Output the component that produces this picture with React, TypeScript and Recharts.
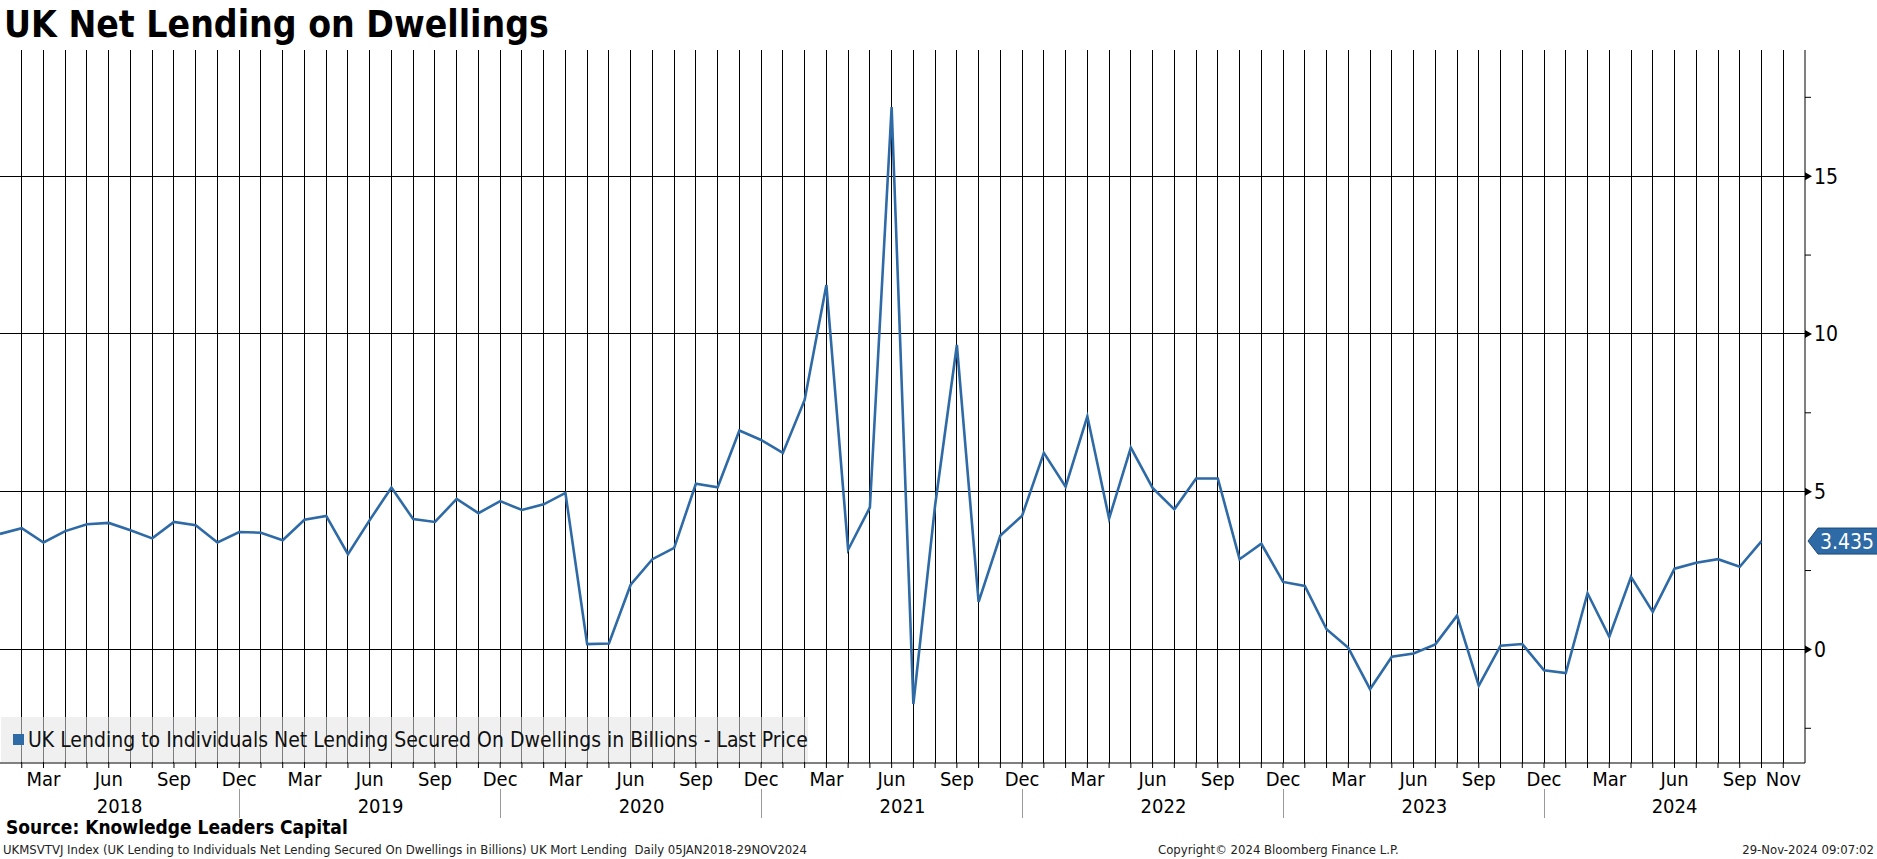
import { LineChart, Line, XAxis, YAxis, ReferenceLine } from "recharts";

// UK net lending secured on dwellings, GBP bn, monthly Jan 2018 - Oct 2024

const MONTH_NAMES = ["Jan", "Feb", "Mar", "Apr", "May", "Jun", "Jul", "Aug", "Sep", "Oct", "Nov", "Dec"];

const values = [
  3.66, 3.84, 3.39, 3.75, 3.97, 4.01, 3.78, 3.52, 4.04, 3.94, 3.39, 3.72,
  3.7, 3.46, 4.11, 4.23, 3.02, 4.1, 5.13, 4.13, 4.04, 4.77, 4.32, 4.7,
  4.42, 4.6, 4.96, 0.17, 0.19, 2.05, 2.86, 3.22, 5.25, 5.14, 6.94, 6.64,
  6.23, 7.91, 11.55, 3.16, 4.5, 17.19, -1.73, 4.57, 9.65, 1.51, 3.61, 4.24,
  6.23, 5.16, 7.39, 4.15, 6.4, 5.12, 4.44, 5.42, 5.42, 2.86, 3.35, 2.14,
  2.01, 0.64, 0.05, -1.26, -0.23, -0.13, 0.16, 1.07, -1.15, 0.12, 0.17, -0.66,
  -0.75, 1.78, 0.4, 2.3, 1.19, 2.56, 2.75, 2.86, 2.62, 3.435,
];

const monthTicks = Array.from({ length: 82 }, (_, k) => k + 1);
const labelledMonths = [2, 5, 8, 11, 14, 17, 20, 23, 26, 29, 32, 35, 38, 41, 44, 47, 50, 53, 56, 59, 62, 65, 68, 71, 74, 77, 80, 82];
const yearSeparators = [11, 23, 35, 47, 59, 71];
const yearTicks = [5.5, 17.5, 29.5, 41.5, 53.5, 65.5, 77];
const yearLabels = ["2018", "2019", "2020", "2021", "2022", "2023", "2024"];
const yTicks = [-2.5, 0, 2.5, 5, 7.5, 10, 12.5, 15, 17.5];
const yGrid = [0, 5, 10, 15];

const data = values.map((v, i) => ({ i, v }));
const last = values[values.length - 1];

const FONT = "'DejaVu Sans Condensed', 'DejaVu Sans', sans-serif";
const BLUE = "#2e6aa6";

function MonthTick({ x, y, payload }: any) {
  const i = payload.value;
  return (
    <g>
      {labelledMonths.includes(i) && (
        <text x={x} y={y + 18} textAnchor="middle" fontSize={20} fontFamily={FONT} fill="#000">
          {MONTH_NAMES[i % 12]}
        </text>
      )}
      {yearSeparators.includes(i) && <line x1={x} x2={x} y1={y + 21} y2={y + 50} stroke="#999" shapeRendering="crispEdges" />}
    </g>
  );
}

function YearTick({ x, y, payload, index }: any) {
  return (
    <text x={x} y={y + 22} textAnchor="middle" fontSize={20} fontFamily={FONT} fill="#000">
      {yearLabels[index] ?? payload.value}
    </text>
  );
}

function ValueTick({ x, y, payload }: any) {
  const v = payload.value;
  if (!yGrid.includes(v)) return <line x1={x} x2={x + 6} y1={y} y2={y} stroke="#000" />;
  return (
    <g>
      <polygon points={`${x},${y - 4} ${x + 7},${y} ${x},${y + 4}`} fill="#000" />
      <text x={x + 9} y={y} dy="0.35em" fontSize={21} fontFamily={FONT} fill="#000">
        {v}
      </text>
    </g>
  );
}

function LastLabel({ viewBox }: any) {
  const x = viewBox.x + viewBox.width + 3;
  const y = viewBox.y;
  return (
    <g>
      <polygon
        points={`${x},${y} ${x + 10},${y - 13} ${x + 72},${y - 13} ${x + 72},${y + 13} ${x + 10},${y + 13}`}
        fill={BLUE}
        stroke="#1d4a78"
      />
      <text x={x + 12} y={y} dy="0.36em" fontSize={21} fontFamily={FONT} fill="#fff">
        {last}
      </text>
    </g>
  );
}

export default function App() {
  return (
    <div style={{ position: "absolute", left: 0, top: 0, width: 1877, height: 859, background: "#fff", fontFamily: FONT }}>
      <div style={{ position: "absolute", left: 4, top: 3, fontSize: 37, fontWeight: "bold", color: "#000" }}>
        UK Net Lending on Dwellings
      </div>
      <LineChart width={1877} height={859} data={data} margin={{ top: 50, right: 0, bottom: 38, left: 0 }}>
        {monthTicks.map((m) => (
          <ReferenceLine key={"v" + m} x={m} stroke="#000" strokeWidth={1} shapeRendering="crispEdges" />
        ))}
        {yGrid.map((g) => (
          <ReferenceLine key={"h" + g} y={g} stroke="#000" strokeWidth={1} shapeRendering="crispEdges" />
        ))}
        <XAxis
          dataKey="i"
          type="number"
          domain={[0, 83]}
          ticks={monthTicks}
          interval={0}
          height={28}
          tickSize={5}
          tickMargin={0}
          axisLine={{ stroke: "#000" }}
          tickLine={{ stroke: "#000" }}
          tick={<MonthTick />}
        />
        <XAxis
          xAxisId="yr"
          dataKey="i"
          type="number"
          domain={[0, 83]}
          ticks={yearTicks}
          interval={0}
          height={30}
          tickSize={0}
          tickMargin={0}
          axisLine={false}
          tickLine={false}
          tick={<YearTick />}
        />
        <YAxis
          orientation="right"
          type="number"
          domain={[-3.6, 19]}
          ticks={yTicks}
          interval={0}
          allowDataOverflow
          width={72}
          tickSize={0}
          tickMargin={0}
          axisLine={{ stroke: "#000" }}
          tickLine={false}
          tick={<ValueTick />}
        />
        <ReferenceLine y={last} stroke="none" label={<LastLabel />} />
        <Line dataKey="v" stroke={BLUE} strokeWidth={2.6} dot={false} isAnimationActive={false} />
      </LineChart>
      <div
        style={{
          position: "absolute",
          left: 1,
          top: 717,
          width: 807,
          height: 45,
          background: "rgba(227,227,227,0.55)",
          display: "flex",
          alignItems: "center",
          fontSize: 21,
          color: "#111",
        }}
      >
        <span style={{ width: 11, height: 11, background: BLUE, margin: "0 4px 0 12px", display: "inline-block" }} />
        UK Lending to Individuals Net Lending Secured On Dwellings in Billions - Last Price
      </div>
      <div style={{ position: "absolute", left: 6, top: 816, fontSize: 19, fontWeight: "bold", color: "#000" }}>
        Source: Knowledge Leaders Capital
      </div>
      <div style={{ position: "absolute", left: 3, top: 842, fontSize: 13, color: "#222", whiteSpace: "pre" }}>
        UKMSVTVJ Index (UK Lending to Individuals Net Lending Secured On Dwellings in Billions) UK Mort Lending  Daily 05JAN2018-29NOV2024
      </div>
      <div style={{ position: "absolute", left: 1158, top: 842, fontSize: 13, color: "#222" }}>
        Copyright© 2024 Bloomberg Finance L.P.
      </div>
      <div style={{ position: "absolute", right: 3, top: 842, fontSize: 13, color: "#222" }}>
        29-Nov-2024 09:07:02
      </div>
    </div>
  );
}
